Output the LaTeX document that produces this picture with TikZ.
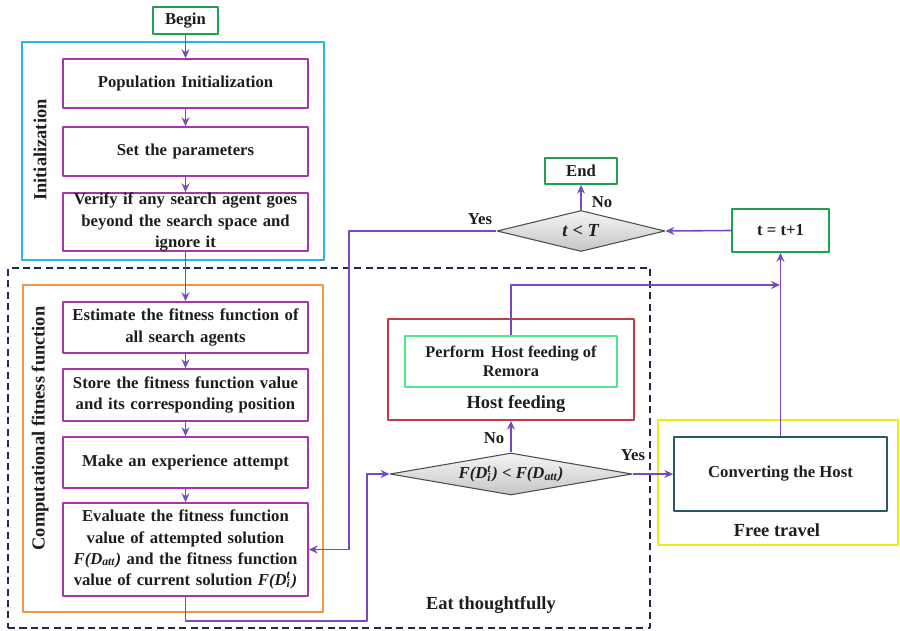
\documentclass[tikz,border=0pt]{standalone}
\usepackage{fontspec}
\setmainfont{Liberation Serif}
\usetikzlibrary{shapes.geometric,arrows.meta}
\definecolor{arrowc}{RGB}{122,72,190}
\definecolor{procc}{RGB}{168,52,176}
\definecolor{initc}{RGB}{40,180,230}
\definecolor{compc}{RGB}{240,150,70}
\definecolor{termc}{RGB}{30,160,80}
\definecolor{hostc}{RGB}{190,60,70}
\definecolor{perfc}{RGB}{80,230,140}
\definecolor{freec}{RGB}{240,235,20}
\definecolor{convc}{RGB}{40,90,100}
\definecolor{eatc}{RGB}{30,40,80}
\definecolor{textc}{RGB}{30,30,30}
\newcommand{\Dit}{D\textsuperscript{t}\llap{\textsubscript{i}}\kern0.05em}

\begin{document}
\begin{tikzpicture}[x=0.02cm,y=-0.02cm,>={Stealth[length=5pt,width=4.5pt]},line join=round,
	font=\fontsize{9.5}{12}\selectfont\bfseries,text=textc,
	procbox/.style={draw=procc,line width=1pt,minimum width=4.9cm,text width=4.6cm,align=center,inner sep=0pt},
	termbox/.style={draw=termc,line width=1pt,inner sep=0pt},
	decbox/.style={diamond,draw=gray!60!black,line width=0.6pt,top color=gray!8,bottom color=gray!45,inner sep=0pt,shape aspect=5},
	framebox/.style={draw,line width=1pt,inner sep=0pt},
	flow/.style={->,draw=arrowc,line width=0.9pt},
	lbl/.style={font=\fontsize{10.5}{12}\selectfont\bfseries}]
	\useasboundingbox (0,0) rectangle (900,631);
	
	% frames
	\node[framebox,draw=initc,minimum width=6.04cm,minimum height=4.36cm] (initfr) at (173,151) {};
	\node[framebox,draw=eatc,dash pattern=on 4pt off 2.5pt,minimum width=12.84cm,minimum height=7.2cm] (eatfr) at (329,448) {};
	\node[framebox,draw=compc,minimum width=6cm,minimum height=6.54cm] (compfr) at (173,448.5) {};
	\node[framebox,draw=hostc,minimum width=4.92cm,minimum height=2.02cm] (hfbox) at (511,369.5) {};
	\node[framebox,draw=freec,minimum width=4.8cm,minimum height=2.5cm] (ftbox) at (778,482.5) {};
	
	% left column
	\node[termbox,minimum width=1.3cm,minimum height=0.54cm] (begin) at (185.5,20.5) {Begin};
	\node[procbox,minimum height=0.98cm] (pop) at (185.5,83.5) {Population Initialization};
	\node[procbox,minimum height=0.98cm] (setp) at (185.5,151.5) {Set the parameters};
	\node[procbox,minimum height=1.16cm] (verify) at (185.5,222) {Verify if any search agent goes\\beyond the search space and\\ignore it};
	\node[procbox,minimum height=1.02cm] (estim) at (185.5,327.5) {Estimate the fitness function of\\all search agents};
	\node[procbox,minimum height=1.04cm] (store) at (185.5,395) {Store the fitness function value\\and its corresponding position};
	\node[procbox,minimum height=1.02cm] (attempt) at (185.5,462.5) {Make an experience attempt};
	\node[procbox,minimum height=1.86cm] (evalu) at (185.5,549.5) {Evaluate the fitness function\\value of attempted solution\\\textit{F(D\textsubscript{att})} and the fitness function\\value of current solution \textit{F(\Dit)}};
	
	% right part
	\node[termbox,minimum width=1.44cm,minimum height=0.52cm] (endn) at (581,171) {End};
	\node[decbox,minimum width=3.36cm,minimum height=0.82cm,font=\fontsize{10.5}{12}\selectfont\bfseries] (check) at (581,231) {\textit{t} < \textit{T}};
	\node[termbox,minimum width=1.94cm,minimum height=0.86cm] (tinc) at (780.5,230.5) {t = t+1};
	\node[framebox,draw=perfc,minimum width=4.24cm,minimum height=1.02cm,align=center,font=\fontsize{9.3}{11}\selectfont\bfseries] (perform) at (511,361.5) {Perform\, Host feeding of\\Remora};
	\node[decbox,minimum width=4.84cm,minimum height=0.84cm] (cond) at (511,474) {\textit{F(\Dit) < F(D\textsubscript{att})}};
	\node[framebox,draw=convc,minimum width=4.26cm,minimum height=1.48cm] (conv) at (780.5,474) {Converting the Host};
	
	% labels
	\node[lbl,rotate=90] (initlbl) at (40,150) {Initialization};
	\node[lbl,rotate=90] (complbl) at (40,428.5) {Computational fitness function};
	\node[lbl] (hflbl) at (516,404) {Host feeding};
	\node[lbl] (ftlbl) at (777,530) {Free travel};
	\node[lbl] (eatlbl) at (491,605) {Eat thoughtfully};
	\node (yes1) at (480,219) {Yes};
	\node (no1) at (602,202) {No};
	\node (no2) at (494,438) {No};
	\node (yes2) at (633,455) {Yes};
	
	\coordinate (lowturn) at (367,621);
	\coordinate (backturn) at (349,231);
	\coordinate (joinpt) at (780,285);
	
	% connectors
	\draw[flow] (begin) -- (pop);
	\draw[flow] (pop) -- (setp);
	\draw[flow] (setp) -- (verify);
	\draw[flow] (verify) -- (estim);
	\draw[flow] (estim) -- (store);
	\draw[flow] (store) -- (attempt);
	\draw[flow] (attempt) -- (evalu);
	\draw[flow] (evalu.south) |- (lowturn) |- (cond.west);
	\draw[flow] (cond.north) -- (hfbox.south);
	\draw[flow] (cond.east) -- (conv.west);
	\draw[flow] (perform.north) |- (joinpt);
	\draw[flow] (conv.north) -- (tinc.south);
	\draw[flow] (tinc.west) -- (check.east);
	\draw[flow] (check.north) -- (endn.south);
	\draw[flow] (check.west) -- (backturn) |- (evalu.east);
	
\end{tikzpicture}
\end{document}
